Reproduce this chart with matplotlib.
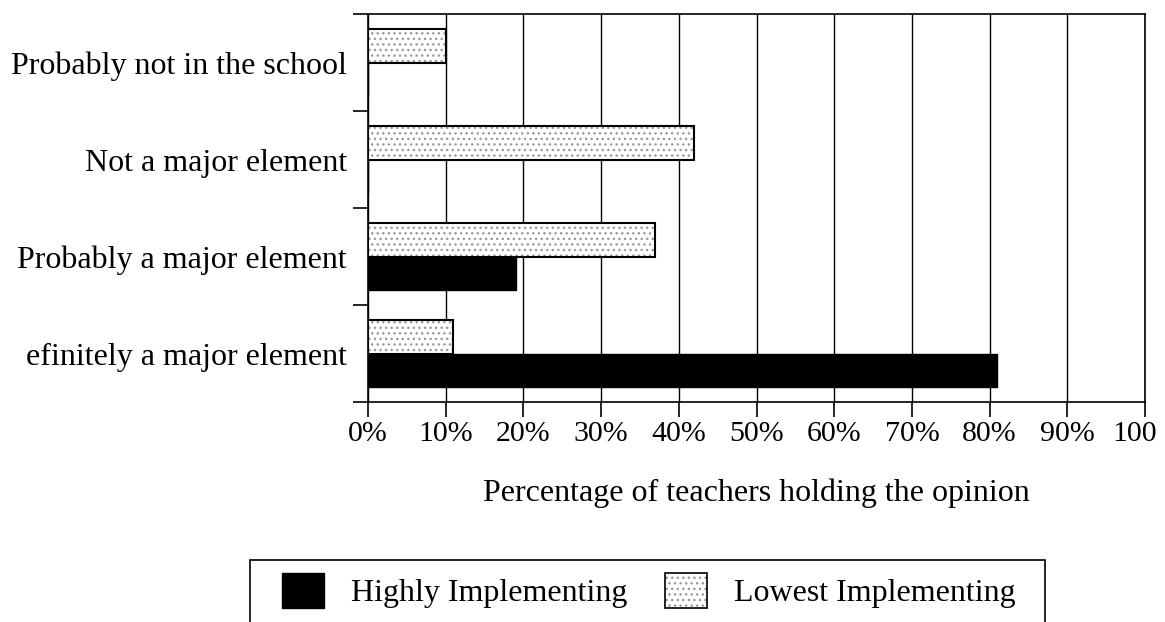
import numpy as np
import matplotlib.pyplot as plt
from matplotlib.patches import Patch, Rectangle
from matplotlib.legend_handler import HandlerTuple
from matplotlib.transforms import ScaledTranslation

plt.rcParams['font.family'] = 'Liberation Serif'

# categories listed bottom to top
categories = ["efinitely a major element", "Probably a major element",
              "Not a major element", "Probably not in the school"]
highly = [81, 19, 0, 0]
lowest = [11, 37, 42, 10]
tick_labels = ["0%", "10%", "20%", "30%", "40%", "50%", "60%", "70%", "80%", "90%", "100"]

W, H = 1165, 622
fs = 23

fig = plt.figure(figsize=(W / 100, H / 100), dpi=100)
ax = fig.add_axes([368 / W, 1 - 402 / H, (1145 - 368) / W, (402 - 14) / H])

y = np.arange(len(categories))
h = 0.35
speck = "#9a9a9a"

ax.barh(y - h / 2, highly, height=h, color="black", edgecolor="black", linewidth=1, zorder=3)
ax.barh(y + h / 2, lowest, height=h, color="white", edgecolor=speck, hatch="...", linewidth=0, zorder=3)
ax.barh(y + h / 2, lowest, height=h, fill=False, edgecolor="black", linewidth=1.5, zorder=4)

ax.set_xlim(0, 100)
ax.set_ylim(-0.5, len(categories) - 0.5)
ax.set_xticks(np.arange(0, 101, 10))
ax.set_xticklabels(tick_labels, fontsize=21.5)
ax.set_yticks(y)
ax.set_yticklabels(categories, fontsize=fs)
ax.set_yticks(np.arange(-0.5, len(categories), 1), minor=True)
ax.tick_params(axis="y", which="major", length=0, pad=15)
ax.tick_params(axis="y", which="minor", length=11, width=1.2, direction="out")
ax.tick_params(axis="x", length=11, width=1.2, direction="out", pad=3)
ax.xaxis.grid(True, color="black", linewidth=1)
ax.set_axisbelow(True)
for s in ax.spines.values():
    s.set_linewidth(1.2)

# the last label sits a little left of its tick in the scan
last = ax.get_xticklabels()[-1]
last.set_transform(last.get_transform() + ScaledTranslation(-0.1, 0, fig.dpi_scale_trans))

ax.set_xlabel("Percentage of teachers holding the opinion", fontsize=fs, labelpad=22)

# legend box runs off the bottom edge, as in the scan
fig.add_artist(Rectangle((250 / W, -0.05), (1045 - 250) / W, 1 - 560 / H + 0.05,
                         transform=fig.transFigure, fill=False, edgecolor="black", linewidth=1.2))

hi_handle = Patch(facecolor="black", edgecolor="black")
lo_handle = (Patch(facecolor="white", edgecolor=speck, hatch="...", linewidth=0),
             Patch(fill=False, edgecolor="black", linewidth=1.2))
fig.legend([hi_handle, lo_handle], ["Highly Implementing", "Lowest Implementing"],
           loc="upper left", bbox_to_anchor=(282 / W, 1 - 573 / H), ncol=2,
           fontsize=fs, frameon=False,
           handlelength=1.3, handleheight=1.3, handletextpad=0.85, columnspacing=1.2,
           borderpad=0, borderaxespad=0,
           handler_map={tuple: HandlerTuple(ndivide=1, pad=0)})

fig.savefig("out.png", dpi=100)
